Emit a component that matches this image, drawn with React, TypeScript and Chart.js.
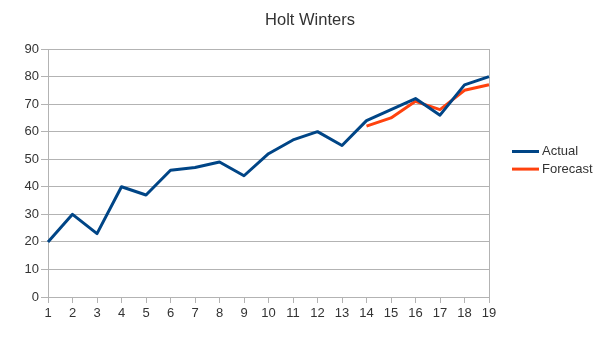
import React, { useEffect, useRef } from "react";
import { Chart, registerables } from "chart.js";

Chart.register(...registerables);

const categories = ["1", "2", "3", "4", "5", "6", "7", "8", "9", "10", "11", "12", "13", "14", "15", "16", "17", "18", "19"];
const actualValues = [20, 30, 23, 40, 37, 46, 47, 49, 44, 52, 57, 60, 55, 64, 68, 72, 66, 77, 80];
const forecastValues = [null, null, null, null, null, null, null, null, null, null, null, null, null, 62, 65, 71, 68, 75, 77];
const seriesNames = ["Actual", "Forecast"];
const seriesColors = ["#004586", "#ff420e"];
const chartTitle = "Holt Winters";
const yMin = 0;
const yMax = 90;
const yStep = 10;

const FONT = '"Liberation Sans", Arial, sans-serif';
const GRID = "#b3b3b3";
const TEXT = "#333333";

const titleAndLegendPlugin = {
  id: "titleAndLegend",
  afterDraw(chart: any) {
    const ctx = chart.ctx;
    const area = chart.chartArea;
    ctx.save();
    // title
    ctx.font = `16.5px ${FONT}`;
    ctx.fillStyle = TEXT;
    ctx.textAlign = "center";
    ctx.textBaseline = "middle";
    ctx.fillText(chartTitle, 310, 20.5);
    // legend
    const x0 = area.right + 23;
    const yc = (area.top + area.bottom) / 2;
    const spacing = 17.6;
    ctx.font = `13px ${FONT}`;
    ctx.textAlign = "left";
    chart.data.datasets.forEach((ds: any, i: number) => {
      const y = yc - 21.5 + i * spacing;
      ctx.strokeStyle = ds.borderColor;
      ctx.lineWidth = 3;
      ctx.beginPath();
      ctx.moveTo(x0, y);
      ctx.lineTo(x0 + 27, y);
      ctx.stroke();
      ctx.fillStyle = TEXT;
      ctx.fillText(ds.label, x0 + 30, y);
    });
    ctx.restore();
  },
};

export default function App() {
  const ref = useRef<HTMLCanvasElement | null>(null);
  useEffect(() => {
    if (!ref.current) return;
    const chart = new Chart(ref.current, {
      type: "line",
      data: {
        labels: categories,
        datasets: [
          {
            label: seriesNames[0],
            data: actualValues,
            borderColor: seriesColors[0],
            backgroundColor: seriesColors[0],
            borderWidth: 3,
            pointRadius: 0,
            tension: 0,
            borderJoinStyle: "round",
          },
          {
            label: seriesNames[1],
            data: forecastValues as any,
            borderColor: seriesColors[1],
            backgroundColor: seriesColors[1],
            borderWidth: 3,
            pointRadius: 0,
            tension: 0,
            borderJoinStyle: "round",
          },
        ],
      },
      options: {
        responsive: false,
        animation: false,
        devicePixelRatio: 1,
        layout: { padding: { left: 18, right: 113, top: 49, bottom: 0 } },
        plugins: {
          legend: { display: false },
          tooltip: { enabled: false },
          title: { display: false },
        },
        scales: {
          x: {
            type: "category",
            offset: false,
            grid: {
              color: (c: any) => (c.index === categories.length - 1 ? GRID : "rgba(0,0,0,0)"),
              tickColor: GRID,
              tickLength: 6,
              drawTicks: true,
            },
            border: { color: GRID },
            ticks: {
              color: TEXT,
              font: { family: FONT, size: 13 },
              padding: 3,
              maxRotation: 0,
              autoSkip: false,
            },
            afterFit: (s: any) => {
              s.height = 42;
            },
          },
          y: {
            min: yMin,
            max: yMax,
            grid: { color: GRID, tickColor: GRID, tickLength: 7 },
            border: { color: GRID },
            ticks: {
              stepSize: yStep,
              color: TEXT,
              font: { family: FONT, size: 13 },
              padding: 2,
            },
            afterFit: (s: any) => {
              s.width = 30;
            },
          },
        },
      },
      plugins: [titleAndLegendPlugin],
    });
    return () => chart.destroy();
  }, []);
  return (
    <div style={{ position: "absolute", left: 0, top: 0, width: 602, height: 339, background: "#fff" }}>
      <canvas ref={ref} width={602} height={339} />
    </div>
  );
}
